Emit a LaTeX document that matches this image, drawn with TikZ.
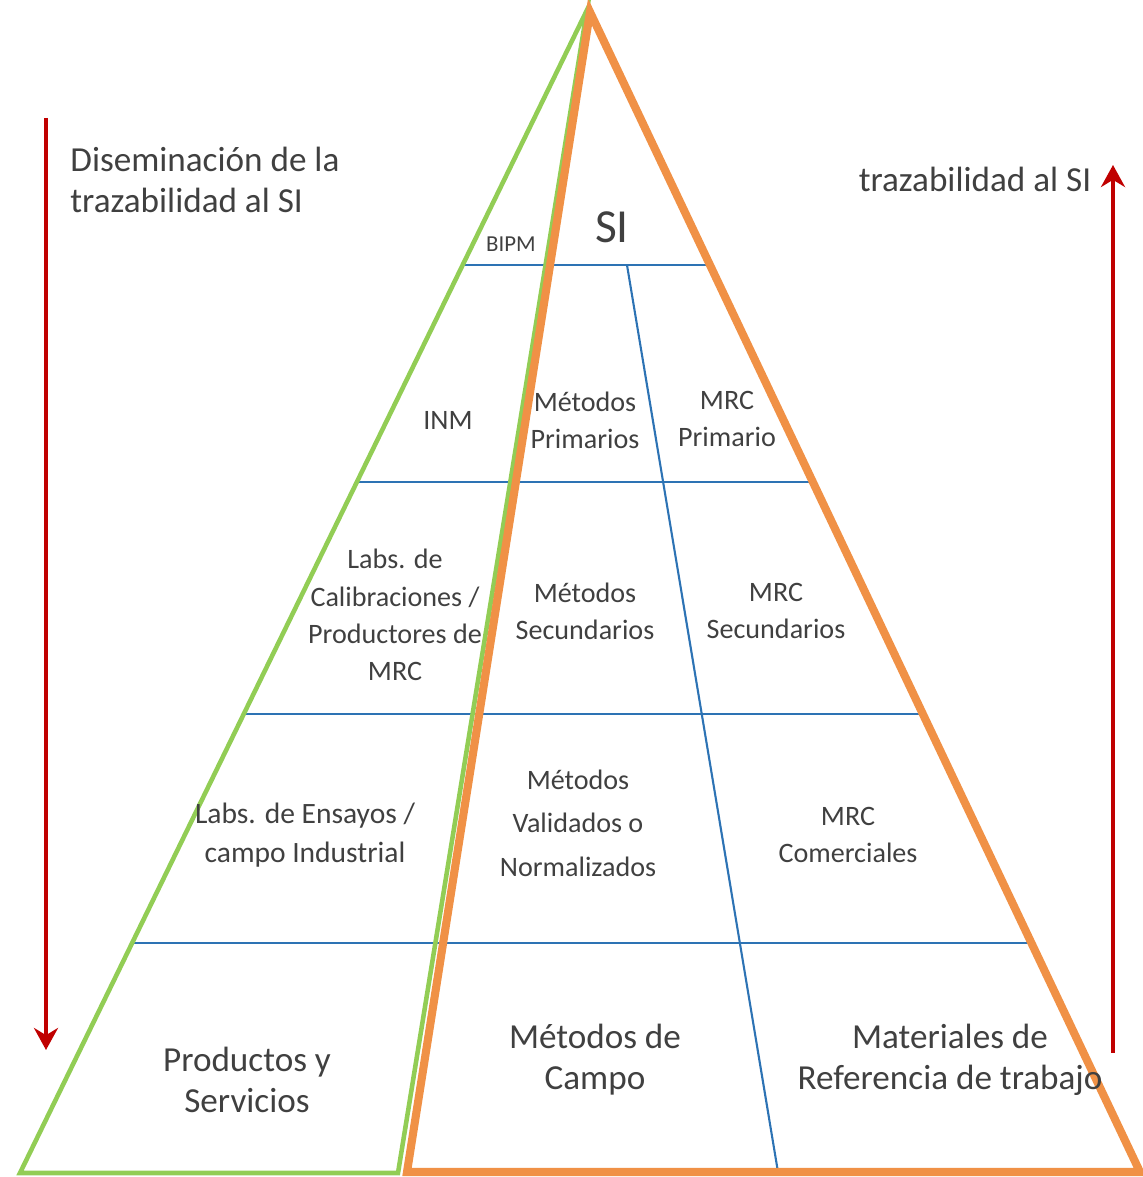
\documentclass[tikz,border=0pt]{standalone}
\usepackage{fontspec}
\setmainfont{Carlito}
\usetikzlibrary{arrows.meta}
\definecolor{grn}{RGB}{146,205,85}
\definecolor{org}{RGB}{240,145,70}
\definecolor{blu}{RGB}{45,115,180}
\definecolor{rd}{RGB}{192,0,0}
\definecolor{txt}{RGB}{64,64,64}

\begin{document}
\begin{tikzpicture}[
    lvl/.style={blu,line width=0.6pt},
    big/.style={text=txt,align=center,font=\fontsize{10}{11.6}\selectfont},
    mid/.style={text=txt,align=center,font=\fontsize{8}{10.6}\selectfont},
    flow/.style={rd,line width=1.2pt,-{Stealth[length=2.2mm,width=2.4mm]}}]
        \useasboundingbox (0,0) rectangle (11.42,11.77);

        % triangle corners
        \coordinate (gtop) at (5.87,11.67);
        \coordinate (gl) at (0.20,0.04);
        \coordinate (gr) at (3.98,0.04);
        \coordinate (otop) at (5.90,11.65);
        \coordinate (ol) at (4.07,0.05);
        \coordinate (or) at (11.40,0.05);

        % levels
        \draw[lvl](4.63,9.12)--(7.10,9.12);
        \draw[lvl](3.57,6.95)--(8.12,6.95);
        \draw[lvl](2.44,4.63)--(9.22,4.63);
        \draw[lvl](1.32,2.34)--(10.31,2.34);
        \draw[lvl](6.27,9.12)--(7.78,0.05);

        \draw[grn,line width=1.3pt](gtop)--(gl)--(gr)--cycle;
        \draw[org,line width=2.3pt](otop)--(ol)--(or)--cycle;

        % arrows
        \coordinate (dtop) at (0.46,10.59);
        \coordinate (dbot) at (0.46,1.27);
        \coordinate (ubot) at (11.13,1.24);
        \coordinate (utop) at (11.13,10.12);
        \draw[flow](dtop)--(dbot);
        \draw[flow](ubot)--(utop);

        \node[big,anchor=west,align=left] (dis) at (0.58,9.97) {Diseminación de la\\trazabilidad al SI};
        \node[big] (traz) at (9.75,9.98) {trazabilidad al SI};
        \node[text=txt,font=\fontsize{13.5}{15}\selectfont] (si) at (6.12,9.50) {SI};
        \node[text=txt,font=\fontsize{6.5}{8}\selectfont] (bipm) at (5.11,9.33) {BIPM};

        \node[mid] (inm) at (4.48,7.57) {INM};
        \node[mid] (metprim) at (5.85,7.57) {Métodos\\Primarios};
        \node[mid] (mrcprim) at (7.27,7.58) {MRC\\Primario};

        \node[mid] (labcal) at (3.95,5.62) {Labs. de\\Calibraciones /\\Productores de\\MRC};
        \node[mid] (metsec) at (5.85,5.66) {Métodos\\Secundarios};
        \node[mid] (mrcsec) at (7.76,5.66) {MRC\\Secundarios};

        \node[mid,font=\fontsize{8.4}{11.2}\selectfont] (labens) at (3.05,3.42) {Labs. de Ensayos /\\campo Industrial};
        \node[mid,font=\fontsize{8}{12.4}\selectfont] (metval) at (5.78,3.54) {Métodos\\Validados o\\Normalizados};
        \node[mid] (mrccom) at (8.48,3.42) {MRC\\Comerciales};

        \node[big] (prod) at (2.47,0.97) {Productos y\\Servicios};
        \node[big] (metcam) at (5.95,1.17) {Métodos de\\Campo};
        \node[big] (matref) at (9.50,1.17) {Materiales de\\Referencia de trabajo};
\end{tikzpicture}
\end{document}
